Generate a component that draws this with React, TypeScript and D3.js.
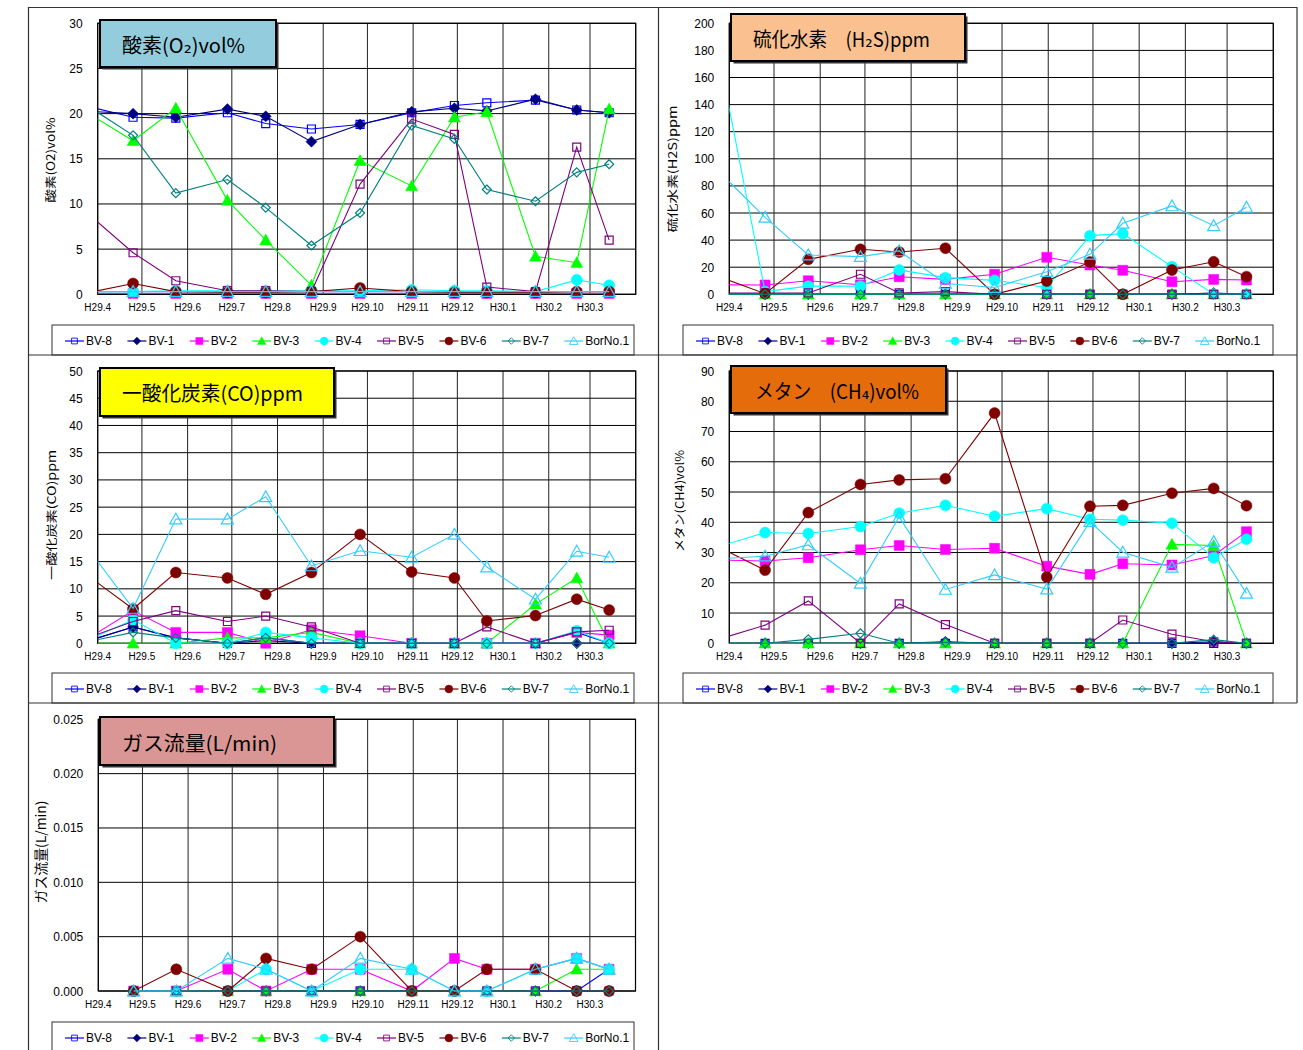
import * as d3 from "d3";
import React from "react";

// survey dates (the first one lies left of the axis start and is clipped)
const surveyDates = [
  "2017-03-20", "2017-04-25", "2017-05-24", "2017-06-28", "2017-07-24", "2017-08-24",
  "2017-09-26", "2017-10-31", "2017-11-29", "2017-12-21", "2018-01-23", "2018-02-20", "2018-03-14",
];

const seriesNames = ["BV-8", "BV-1", "BV-2", "BV-3", "BV-4", "BV-5", "BV-6", "BV-7", "BorNo.1"];
const seriesColors = ["#0000FF", "#000080", "#FF00FF", "#00FF00", "#00FFFF", "#800080", "#800000", "#008080", "#33CCFF"];
const seriesMarkers = ["squareOpen", "diamond", "square", "triangle", "circle", "squareOpen", "circle", "diamondOpen", "triangleOpen"];

type V = number | null;

// rows follow seriesNames
const o2Values: V[][] = [
  [21.0, 19.6, 19.5, 20.1, 18.9, 18.3, 18.8, 20.1, 20.9, 21.2, 21.5, 20.4, 20.1],
  [20.3, 20.0, 19.6, 20.5, 19.7, 16.9, 18.8, 20.2, 20.6, 20.3, 21.6, 20.4, 20.1],
  [0.1, 0.1, 0.1, 0.1, 0.1, 0.1, 0.1, 0.1, 0.1, 0.1, 0.1, 0.1, 0.1],
  [20.6, 17.0, 20.6, 10.4, 6.0, 1.0, 14.8, 12.0, 19.6, 20.2, 4.2, 3.5, 20.5],
  [0.3, 0.3, 0.4, 0.4, 0.4, 0.4, 0.4, 0.5, 0.4, 0.4, 0.3, 1.6, 1.0],
  [9.7, 4.6, 1.5, 0.4, 0.4, 0.3, 12.2, 19.4, 17.7, 0.8, 0.3, 16.3, 6.0],
  [0, 1.2, 0.3, 0.2, 0.2, 0.3, 0.7, 0.3, 0.2, 0.2, 0.2, 0.3, 0.3],
  [21.4, 17.6, 11.2, 12.7, 9.6, 5.4, 9.0, 18.7, 17.2, 11.6, 10.3, 13.5, 14.4],
  [0.3, 0.3, 0.3, 0.3, 0.3, 0.3, 0.3, 0.3, 0.3, 0.3, 0.3, 0.3, 0.3],
];

const h2sValues: V[][] = [
  [0, 0, 0, 0, 0, 0, 0, 0, 0, 0, 0, 0, 0],
  [0, 0, 0, 0, 0, 0, 0, 0, 0, 0, 0, 1, 0],
  [7, 6.9, 10, 7, 13, 11, 14.8, 27.3, 21.6, 17.7, 9.3, 11, 10.6],
  [0, 0, 0, 0, 0, 0, 0, 0, 0, 0, 0, 0, 0],
  [204.5, 2, 6, 6, 18, 12.3, 10.3, 5, 43.3, 44.8, 20.4, 0, 0],
  [1, 1, 1, 14.8, 1, 2, 0, 0, 0, 0, 0, 0, 0],
  [15, 0.5, 25.8, 33.2, 31.2, 34, 0, 9.8, 23.8, 0, 17.9, 24, 13],
  [0, 0, 0, 0, 0, 0, 0, 0, 0, 0, 0, 0, 0],
  [96, 56.8, 29, 27.8, 32, 8, 5, 16.7, 29.5, 52.4, 65.2, 50.6, 64.2],
];

const coValues: V[][] = [
  [0, 3, 1, 0, 1, 0, 0, 0, 0, 0, 0, 2, 0],
  [0, 3, 1, 0, 0.5, 0, 0, 0, 0, 0, 0, 0, 0],
  [0, 6, 2, 2, 0, 2.5, 1.4, 0, 0, 0, 0, 2, 1.5],
  [0, 0, 0, 1, 1, 2, 0, 0, 0, 0, 7.2, 12, 0],
  [0, 4.3, 0, 0, 2, 1, 0, 0, 0, 0, 0, 2.3, 0],
  [0.5, 4, 6, 4, 5, 3, 0, 0, 0, 3, 0, 2.1, 2.4],
  [13.5, 6.3, 13, 12, 9, 13, 20, 13.1, 12, 4.1, 5.1, 8.1, 6.1],
  [0, 2, 1, 0, 1, 0, 0, 0, 0, 0, 0, 0, 0],
  [19.3, 6.4, 22.8, 22.8, 26.9, 14.2, 17, 15.8, 20, 14, 8.1, 16.9, 15.8],
];

const ch4Values: V[][] = [
  [0, 0, 0, 0, 0, 0, 0, 0, 0, 0, 0, 0, 0],
  [0, 0, 0, 0, 0, 0.5, 0, 0, 0, 0, 0, 0.5, 0],
  [27.6, 27.2, 28.3, 30.9, 32.3, 31, 31.4, 25.5, 22.8, 26.3, 25.9, 29, 36.9],
  [0, 0, 0, 0, 0, 0, 0, 0, 0, 0, 32.7, 32.3, 0],
  [31.2, 36.6, 36.3, 38.6, 43, 45.6, 42, 44.5, 41, 40.7, 39.7, 28.3, 34.4],
  [0.6, 6, 14, 0, 13, 6.2, 0, 0, 0, 7.7, 3, 0.5, 0],
  [33, 24.2, 43.2, 52.5, 54, 54.4, 76.1, 21.9, 45.3, 45.6, 49.6, 51.2, 45.5],
  [0, 0, 1.3, 3.3, 0, 0.3, 0, 0, 0, 0, 0, 1.2, 0],
  [27.8, 28.8, 32.5, 19.8, 41.8, 17.8, 22.6, 17.9, 40.2, 30.1, 25.1, 33.6, 16.5],
];

const flowValues: V[][] = [
  [null, 0, 0, 0, 0, 0, 0, 0, 0, 0, 0, 0, 0.002],
  [null, 0, 0, 0, 0, 0, 0, 0, 0, 0, 0, 0, 0],
  [null, 0, 0, 0.002, 0, 0.002, 0.002, 0, 0.003, 0.002, 0.002, 0.003, 0.002],
  [null, 0, 0, 0, 0, 0, 0, 0, 0, 0, 0, 0.002, 0.002],
  [null, 0, 0, 0, 0.002, 0, 0.002, 0.002, 0, 0, 0.002, 0.003, 0.002],
  [null, 0, 0, 0, 0, 0, 0, 0, 0, 0, 0, 0, 0],
  [null, 0, 0.002, 0, 0.003, 0.002, 0.005, 0, 0, 0.002, 0.002, 0, 0],
  [null, 0, 0, 0, 0, 0, 0, 0, 0, 0, 0, 0, 0],
  [null, 0, 0, 0.003, 0.002, 0, 0.003, 0.002, 0, 0, 0.002, 0.003, 0.002],
];

const parseDate = d3.timeParse("%Y-%m-%d");
const dates = surveyDates.map((s) => parseDate(s) as Date);
const axisStart = parseDate("2017-04-01") as Date;
const axisEnd = parseDate("2018-04-01") as Date;

const NUM_FONT = "'Liberation Sans', Arial, sans-serif";
const JP_FONT = "'Noto Sans CJK JP', 'DejaVu Sans', sans-serif";

interface Panel {
  id: string;
  title: string;
  titleFill: string;
  box: [number, number, number, number];
  titleX: number;
  titleY: number;
  titleLen: number;
  axisTitle: string;
  axisX: number;
  axisY: number;
  axisLen: number;
  axisSize: number;
  plot: [number, number, number, number];
  yMax: number;
  yStep: number;
  fmt: (n: number) => string;
  values: V[][];
  legend: [number, number, number, number];
}

const panels: Panel[] = [
  {
    id: "o2",
    title: "酸素(O₂)vol%",
    titleFill: "#93CDDD",
    box: [100, 20, 176, 47],
    titleX: 122, titleY: 53, titleLen: 123,
    axisTitle: "酸素(O2)vol%", axisX: 55, axisY: 160, axisLen: 85, axisSize: 11.5,
    plot: [97.7, 23.3, 635.7, 294.3],
    yMax: 30, yStep: 5, fmt: d3.format("d"),
    values: o2Values,
    legend: [52, 325, 582, 30],
  },
  {
    id: "h2s",
    title: "硫化水素　(H₂S)ppm",
    titleFill: "#FAC090",
    box: [731, 14, 234, 47],
    titleX: 753, titleY: 47, titleLen: 177,
    axisTitle: "硫化水素(H2S)ppm", axisX: 677, axisY: 169, axisLen: 127, axisSize: 11.5,
    plot: [729.3, 23.3, 1273.3, 294.3],
    yMax: 200, yStep: 20, fmt: d3.format("d"),
    values: h2sValues,
    legend: [683, 325, 590, 30],
  },
  {
    id: "co",
    title: "一酸化炭素(CO)ppm",
    titleFill: "#FFFF00",
    box: [100, 368, 234, 48],
    titleX: 122, titleY: 401, titleLen: 181,
    axisTitle: "一酸化炭素(CO)ppm", axisX: 56, axisY: 515, axisLen: 130, axisSize: 11.5,
    plot: [97.7, 371, 635.7, 643.3],
    yMax: 50, yStep: 5, fmt: d3.format("d"),
    values: coValues,
    legend: [52, 673, 582, 30],
  },
  {
    id: "ch4",
    title: "メタン　(CH₄)vol%",
    titleFill: "#E46C0A",
    box: [731, 366, 215, 47],
    titleX: 755, titleY: 399, titleLen: 164,
    axisTitle: "メタン(CH4)vol%", axisX: 684, axisY: 501, axisLen: 102, axisSize: 11.5,
    plot: [729.3, 371, 1273.3, 643.3],
    yMax: 90, yStep: 10, fmt: d3.format("d"),
    values: ch4Values,
    legend: [683, 673, 590, 30],
  },
  {
    id: "flow",
    title: "ガス流量(L/min)",
    titleFill: "#D99694",
    box: [100, 717, 234, 48],
    titleX: 122, titleY: 751, titleLen: 155,
    axisTitle: "ガス流量(L/min)", axisX: 46, axisY: 852, axisLen: 103, axisSize: 13.5,
    plot: [98.3, 719.3, 635.5, 991],
    yMax: 0.025, yStep: 0.005, fmt: d3.format(".3f"),
    values: flowValues,
    legend: [52, 1022, 582, 40],
  },
];

function markerPath(shape: string): string {
  switch (shape) {
    case "squareOpen":
      return "M-4,-4h8v8h-8Z";
    case "square":
      return "M-5,-5h10v10h-10Z";
    case "diamond":
      return "M0,-5.5L5.5,0L0,5.5L-5.5,0Z";
    case "diamondOpen":
      return "M0,-4.5L4.5,0L0,4.5L-4.5,0Z";
    case "triangle":
    case "triangleOpen":
      return "M0,-6L6,4.8L-6,4.8Z";
    default:
      return "";
  }
}

const Marker: React.FC<{ shape: string; color: string; x: number; y: number }> = ({ shape, color, x, y }) => {
  const open = shape.endsWith("Open");
  if (shape === "circle") {
    return <circle cx={x} cy={y} r={5.5} fill={color} stroke={color} strokeWidth={0.5} />;
  }
  return (
    <path
      d={markerPath(shape)}
      transform={`translate(${x},${y})`}
      fill={open ? "none" : color}
      stroke={color}
      strokeWidth={open ? 1.2 : 0.5}
    />
  );
};

const heisei = (d: Date) => `H${d.getFullYear() - 1988}.${d.getMonth() + 1}`;

const ChartPanel: React.FC<{ p: Panel }> = ({ p }) => {
  const [left, top, right, bottom] = p.plot;
  const x = d3.scaleTime().domain([axisStart, axisEnd]).range([left, right]);
  const y = d3.scaleLinear().domain([0, p.yMax]).range([bottom, top]);
  const months = d3.timeMonth.range(axisStart, d3.timeDay.offset(axisEnd, 1));
  const yTicks = d3.range(0, p.yMax + p.yStep / 2, p.yStep);
  const line = d3
    .line<V>()
    .defined((v) => v !== null)
    .x((_, i) => x(dates[i]))
    .y((v) => y(v as number));
  const clipId = `clip-${p.id}`;
  const [lx, ly, lw, lh] = p.legend;
  const legendMid = ly + 16;

  return (
    <g>
      <defs>
        <clipPath id={clipId}>
          <rect x={left} y={top - 30} width={right - left} height={bottom - top + 60} />
        </clipPath>
      </defs>
      <rect x={left} y={top} width={right - left} height={bottom - top} fill="#fff" />
      {yTicks.map((t) => (
        <line key={`h${t}`} x1={left} x2={right} y1={y(t)} y2={y(t)} stroke="#000" strokeWidth={1} />
      ))}
      {months.map((m) => (
        <line key={`v${+m}`} x1={x(m)} x2={x(m)} y1={top} y2={bottom} stroke="#222" strokeWidth={1} />
      ))}
      <rect x={left} y={top} width={right - left} height={bottom - top} fill="none" stroke="#000" strokeWidth={1.2} />
      {yTicks.map((t) => (
        <text key={`yl${t}`} x={left - 15} y={y(t) + 4.5} textAnchor="end" fontSize={12} fontFamily={NUM_FONT} fill="#000">
          {p.fmt(t)}
        </text>
      ))}
      {months.slice(0, 12).map((m) => (
        <text key={`xl${+m}`} x={x(m)} y={bottom + 16.5} textAnchor="middle" fontSize={10} fontFamily={NUM_FONT} fill="#000">
          {heisei(m)}
        </text>
      ))}
      <text
        transform={`translate(${p.axisX},${p.axisY}) rotate(-90)`}
        textAnchor="middle"
        fontSize={p.axisSize}
        fontFamily={JP_FONT}
        textLength={p.axisLen}
        lengthAdjust="spacingAndGlyphs"
        fill="#000"
      >
        {p.axisTitle}
      </text>
      <g clipPath={`url(#${clipId})`}>
        {p.values.map((vals, si) => (
          <g key={seriesNames[si]}>
            <path d={line(vals) || ""} fill="none" stroke={seriesColors[si]} strokeWidth={1.1} />
            {vals.map((v, i) =>
              v === null ? null : (
                <Marker key={i} shape={seriesMarkers[si]} color={seriesColors[si]} x={x(dates[i])} y={y(v)} />
              )
            )}
          </g>
        ))}
      </g>
      <rect x={p.box[0] + 2.5} y={p.box[1] + 2.5} width={p.box[2]} height={p.box[3]} fill="#333" />
      <rect x={p.box[0]} y={p.box[1]} width={p.box[2]} height={p.box[3]} fill={p.titleFill} stroke="#000" strokeWidth={2} />
      <text
        x={p.titleX}
        y={p.titleY}
        fontSize={20}
        fontFamily={JP_FONT}
        textLength={p.titleLen}
        lengthAdjust="spacingAndGlyphs"
        fill="#000"
      >
        {p.title}
      </text>
      <rect x={lx} y={ly} width={lw} height={lh} fill="#fff" stroke="#333" strokeWidth={1} />
      {seriesNames.map((name, si) => {
        const x0 = lx + 13 + si * 62.4;
        return (
          <g key={`lg${name}`}>
            <line x1={x0} x2={x0 + 19} y1={legendMid} y2={legendMid} stroke={seriesColors[si]} strokeWidth={1.2} />
            <g transform={`translate(${x0 + 9.5},${legendMid}) scale(0.72)`}>
              <Marker shape={seriesMarkers[si]} color={seriesColors[si]} x={0} y={0} />
            </g>
            <text x={x0 + 21} y={legendMid + 4} fontSize={12} fontFamily={NUM_FONT} fill="#000">
              {name}
            </text>
          </g>
        );
      })}
    </g>
  );
};

const App: React.FC = () => {
  return (
    <div style={{ position: "absolute", left: 0, top: 0 }}>
      <svg width={1303} height={1050} viewBox="0 0 1303 1050" style={{ display: "block", background: "#fff" }}>
        <rect x={0} y={0} width={1303} height={1050} fill="#fff" />
        {panels.map((p) => (
          <ChartPanel key={p.id} p={p} />
        ))}
        {/* sheet borders between the panels */}
        <g stroke="#333" strokeWidth={1.2} fill="none">
          <line x1={28} x2={1297} y1={7.5} y2={7.5} />
          <line x1={28} x2={1297} y1={355} y2={355} />
          <line x1={28} x2={1297} y1={703} y2={703} />
          <line x1={28.5} x2={28.5} y1={7} y2={1050} />
          <line x1={658.5} x2={658.5} y1={7} y2={1050} />
          <line x1={1297} x2={1297} y1={7} y2={703} />
        </g>
      </svg>
    </div>
  );
};

export default App;
